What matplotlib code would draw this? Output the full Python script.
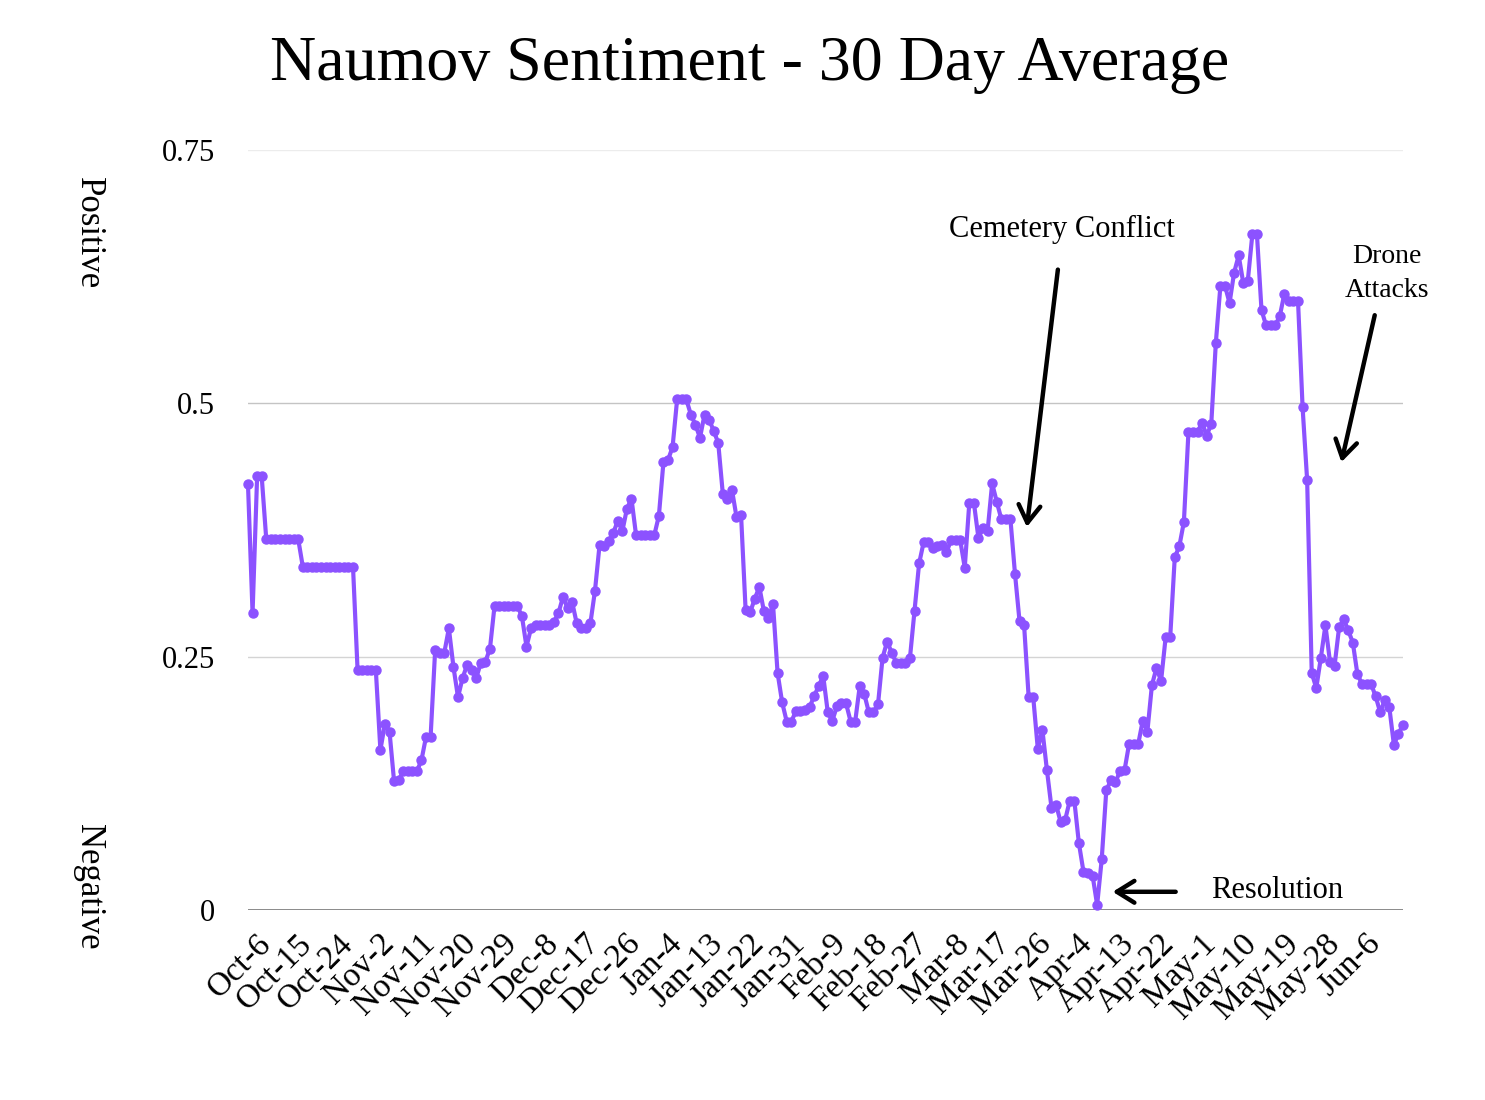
import numpy as np
import pandas as pd
import matplotlib
matplotlib.use('Agg')
import matplotlib.pyplot as plt

plt.rcParams['font.family'] = ['Liberation Serif', 'DejaVu Serif']

# 30 day average sentiment, one value per day (Oct 2 .. Jun 12)
oct_vals = [0.420, 0.293, 0.428, 0.428, 0.366, 0.366, 0.366, 0.366, 0.366, 0.366,
            0.366, 0.366, 0.339, 0.339, 0.339, 0.339, 0.339, 0.339, 0.339, 0.339,
            0.339, 0.339, 0.339, 0.339, 0.237, 0.237, 0.237, 0.237, 0.237, 0.158]
nov_vals = [0.184, 0.176, 0.127, 0.128, 0.137, 0.137, 0.137, 0.137, 0.148, 0.171,
            0.171, 0.257, 0.254, 0.254, 0.278, 0.240, 0.210, 0.229, 0.242, 0.237,
            0.229, 0.244, 0.245, 0.258, 0.300, 0.300, 0.300, 0.300, 0.300, 0.300]
dec_vals = [0.290, 0.260, 0.278, 0.281, 0.281, 0.281, 0.281, 0.284, 0.293, 0.309,
            0.298, 0.304, 0.283, 0.278, 0.278, 0.283, 0.315, 0.360, 0.359, 0.364,
            0.372, 0.384, 0.374, 0.396, 0.406, 0.370, 0.370, 0.370, 0.370, 0.370,
            0.389]
jan_vals = [0.442, 0.444, 0.457, 0.504, 0.504, 0.504, 0.489, 0.479, 0.466, 0.489,
            0.484, 0.473, 0.461, 0.411, 0.406, 0.415, 0.388, 0.390, 0.296, 0.294,
            0.307, 0.319, 0.295, 0.288, 0.302, 0.234, 0.205, 0.186, 0.186, 0.196,
            0.196]
feb_vals = [0.197, 0.200, 0.211, 0.221, 0.231, 0.195, 0.187, 0.201, 0.204, 0.204,
            0.186, 0.186, 0.221, 0.213, 0.195, 0.195, 0.203, 0.249, 0.265, 0.254,
            0.244, 0.244, 0.244, 0.249, 0.295, 0.342, 0.363, 0.363]
mar_vals = [0.357, 0.359, 0.360, 0.353, 0.365, 0.365, 0.365, 0.338, 0.402, 0.402,
            0.367, 0.377, 0.374, 0.421, 0.403, 0.386, 0.386, 0.386, 0.332, 0.285,
            0.281, 0.210, 0.210, 0.159, 0.178, 0.138, 0.101, 0.104, 0.087, 0.089,
            0.108]
apr_vals = [0.108, 0.066, 0.038, 0.037, 0.034, 0.005, 0.050, 0.118, 0.128, 0.126,
            0.137, 0.138, 0.164, 0.164, 0.164, 0.187, 0.176, 0.222, 0.239, 0.226,
            0.269, 0.269, 0.348, 0.359, 0.383, 0.472, 0.472, 0.472, 0.481, 0.468]
may_vals = [0.480, 0.560, 0.616, 0.616, 0.599, 0.629, 0.646, 0.619, 0.621, 0.667,
            0.667, 0.592, 0.577, 0.577, 0.577, 0.586, 0.608, 0.601, 0.601, 0.601,
            0.496, 0.424, 0.234, 0.219, 0.249, 0.281, 0.245, 0.241, 0.279, 0.287,
            0.276]
jun_vals = [0.264, 0.233, 0.223, 0.223, 0.223, 0.211, 0.195, 0.207, 0.200, 0.163,
            0.174, 0.183]

values = oct_vals + nov_vals + dec_vals + jan_vals + feb_vals + mar_vals + apr_vals + may_vals + jun_vals
dates = pd.date_range('2022-10-02', periods=len(values), freq='D')
x = np.arange(len(values))

# x labels every 9 days starting Oct 6
first_label = pd.Timestamp('2022-10-06')
tick_idx = [i for i, d in enumerate(dates) if d >= first_label and (d - first_label).days % 9 == 0]
tick_labels = [f"{dates[i]:%b}-{dates[i].day}" for i in tick_idx]

y_ticks = [0, 0.25, 0.5, 0.75]
y_tick_labels = ['0', '0.25', '0.5', '0.75']

purple = '#8c52ff'

fig = plt.figure(figsize=(14.85, 11), dpi=100)
ax = fig.add_axes([0.167, 0.1727, 0.7778, 0.6909])

ax.plot(x, values, color=purple, lw=3.0, marker='o', markersize=6.5, clip_on=False, zorder=3)

ax.set_xlim(0, len(values) - 1)
ax.set_ylim(0, 0.75)
ax.set_yticks(y_ticks)
ax.set_yticklabels(y_tick_labels, fontsize=22)
ax.set_xticks(tick_idx)
ax.set_xticklabels(tick_labels, fontsize=24, rotation=45, ha='right', va='center', rotation_mode='anchor')
ax.tick_params(axis='both', length=0)
ax.tick_params(axis='y', pad=24)
ax.tick_params(axis='x', pad=21)

for s in ax.spines.values():
    s.set_visible(False)

grid_colors = {0.25: '#d4d4d4', 0.5: '#c4c4c4', 0.75: '#ececec'}
for yv, c in grid_colors.items():
    ax.axhline(yv, color=c, lw=1.0, zorder=1)
ax.axhline(0, color='#8a8a8a', lw=1.4, zorder=2)

ax.text(-0.1385, 0.891, 'Positive', transform=ax.transAxes, rotation=270,
        ha='center', va='center', fontsize=25)
ax.text(-0.1385, 0.030, 'Negative', transform=ax.transAxes, rotation=270,
        ha='center', va='center', fontsize=25)

fig.text(0.505, 0.927, 'Naumov Sentiment - 30 Day Average', ha='center', va='baseline', fontsize=46)

arrow = dict(arrowstyle='->, head_length=0.45, head_width=0.28', lw=3.2, color='black',
             mutation_scale=28, shrinkA=0, shrinkB=0)

ax.annotate('', xy=(170.6, 0.378), xytext=(177.4, 0.632), arrowprops=arrow, annotation_clip=False)
ax.text(178.2, 0.672, 'Cemetery Conflict', ha='center', va='center', fontsize=22)

ax.annotate('', xy=(239.5, 0.442), xytext=(246.8, 0.587), arrowprops=arrow, annotation_clip=False)
ax.text(249.4, 0.628, 'Drone\nAttacks', ha='center', va='center', fontsize=20, linespacing=1.5)

ax.annotate('', xy=(189.4, 0.018), xytext=(203.2, 0.018), arrowprops=arrow, annotation_clip=False)
ax.text(225.5, 0.0197, 'Resolution', ha='center', va='center', fontsize=22)

fig.savefig('out.png', dpi=100)
